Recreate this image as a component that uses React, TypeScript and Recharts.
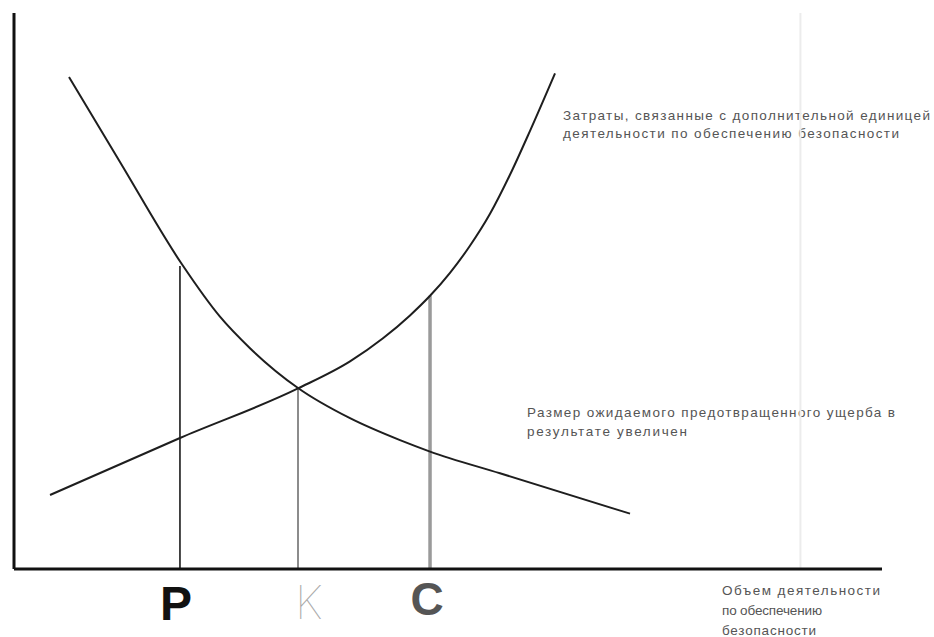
import React from 'react';
import { LineChart, Line, XAxis, YAxis, ReferenceLine, Customized } from 'recharts';

// Curve: costs of an additional unit of safety activity (rising)
const costX = [4.15, 19.12, 32.72, 38.71, 42.51, 45.62, 47.93, 50.23, 52.53, 54.84, 57.14, 59.45, 62.33];
const costY = [13.31, 23.56, 32.48, 37.34, 41.49, 45.61, 49.14, 53.27, 58.13, 63.88, 70.9, 78.81, 89.15];

// Curve: expected prevented damage (falling)
const damageX = [6.34, 12.21, 19.35, 23.73, 27.19, 32.72, 38.71, 44.47, 47.93, 55.99, 70.97];
const damageY = [88.49, 73.2, 54.8, 45.38, 39.71, 32.55, 27.12, 23.17, 21.12, 17.21, 9.96];

// Vertical markers P, K, C
const markerLabels = ['P', 'K', 'C'];
const markerX = [19.12, 32.72, 47.93];
const markerTop = [54.5, 32.55, 49.14];

const costLabel = ['Затраты, связанные с дополнительной единицей', 'деятельности по обеспечению безопасности'];
const damageLabel = ['Размер ожидаемого предотвращенного ущерба в', 'результате увеличен'];
const axisLabel = ['Объем деятельности', 'по обеспечению', 'безопасности'];

const faintLineX = 90.6;

const costData = costX.map((x, i) => ({ x, y: costY[i] }));
const damageData = damageX.map((x, i) => ({ x, y: damageY[i] }));

const markerStyles = [
  { stroke: '#1a1a1a', width: 1.6, text: { fill: '#111', weight: 700, size: 48, family: '"Liberation Sans Narrow", "Liberation Sans", Arial', dx: -4, dy: 43, anchor: 'middle' } },
  { stroke: '#8c8c8c', width: 2, text: { fill: '#a8a8a8', weight: 100, size: 46, family: 'Inter, Lato, sans-serif', dx: -3, dy: 42, anchor: 'start' } },
  { stroke: '#9a9a9a', width: 3.5, text: { fill: '#555', weight: 700, size: 46, family: '"Liberation Sans Narrow", "Liberation Sans", Arial', dx: -3, dy: 38, anchor: 'middle' } },
];

const FONT = '"Liberation Sans", Arial, sans-serif';

const MarkerTick = (props: any) => {
  const { x, y, payload } = props;
  const i = markerX.indexOf(payload.value);
  if (i < 0) return null;
  const s = markerStyles[i].text;
  return (
    <text
      x={x + s.dx}
      y={y + s.dy}
      textAnchor={s.anchor}
      fontSize={s.size}
      fontWeight={s.weight}
      fontFamily={s.family}
      fill={s.fill}
    >
      {markerLabels[i]}
    </text>
  );
};

const TextBlock = ({ x, y, lines, lengths, gap }: any) => (
  <g>
    {lines.map((l: string, i: number) => (
      <text
        key={i}
        x={x}
        y={y + i * gap}
        fontSize={13.5}
        fontFamily={FONT}
        fill="#555"
        textLength={lengths[i]}
        lengthAdjust="spacing"
      >
        {l}
      </text>
    ))}
  </g>
);

const Annotations = () => (
  <g>
    <TextBlock x={563} y={120} lines={costLabel} lengths={[367, 336]} gap={18} />
    <TextBlock x={527} y={417} lines={damageLabel} lengths={[368, 160]} gap={19} />
    <TextBlock x={722} y={595} lines={axisLabel} lengths={[158, 100, 94]} gap={20} />
  </g>
);

export default function App() {
  return (
    <div style={{ position: 'absolute', left: 0, top: 0, width: 934, height: 637, background: '#fff' }}>
      <LineChart width={934} height={637} margin={{ top: 13, right: 52, bottom: 0, left: 13 }}>
        <XAxis
          type="number"
          dataKey="x"
          domain={[0, 100]}
          ticks={markerX}
          tick={<MarkerTick />}
          tickLine={false}
          axisLine={{ stroke: '#111', strokeWidth: 3 }}
          height={68}
          interval={0}
        />
        <YAxis
          type="number"
          dataKey="y"
          domain={[0, 100]}
          tick={false}
          tickLine={false}
          axisLine={{ stroke: '#111', strokeWidth: 3 }}
          width={1}
        />
        <ReferenceLine x={faintLineX} stroke="#ececec" strokeWidth={2} />
        {markerX.map((mx, i) => (
          <ReferenceLine
            key={i}
            segment={[{ x: mx, y: 0 }, { x: mx, y: markerTop[i] }]}
            stroke={markerStyles[i].stroke}
            strokeWidth={markerStyles[i].width}
          />
        ))}
        <Line data={damageData} dataKey="y" type="monotone" stroke="#1e1e1e" strokeWidth={2} dot={false} isAnimationActive={false} />
        <Line data={costData} dataKey="y" type="monotone" stroke="#1e1e1e" strokeWidth={2} dot={false} isAnimationActive={false} />
        <Customized component={Annotations} />
      </LineChart>
    </div>
  );
}
